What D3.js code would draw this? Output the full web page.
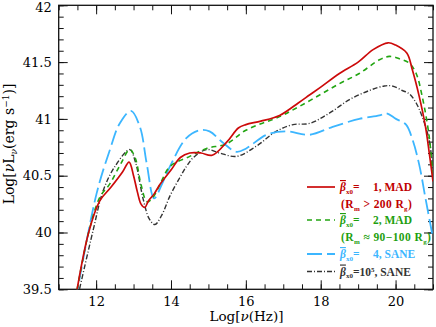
<!DOCTYPE html>
<html>
<head>
<meta charset="utf-8">
<script src="https://cdn.jsdelivr.net/npm/d3@7"></script>
<style>
  body { margin: 0; background: white; }
  text { font-family: "DejaVu Serif", "Liberation Serif", serif; }
  .leg { font-family: "Liberation Serif", serif; font-weight: bold; }
</style>
</head>
<body>
<script>
// spectra: log nu (Hz) and log nuL_nu (erg/s)
var nuRed  = [11.45, 11.8, 12.1, 12.4, 12.7, 12.88, 13.0, 13.1, 13.2, 13.3, 13.4, 13.55, 13.7, 14.0, 14.25, 14.5, 14.8, 15.1, 15.5, 15.8, 16.0, 16.4, 16.9, 17.4, 17.7, 18.0, 18.5, 19.0, 19.4, 19.8, 20.0, 20.3, 20.45, 20.63, 20.8, 20.9, 21.0];
var lumRed = [39.42, 40.0, 40.28, 40.4, 40.53, 40.62, 40.5, 40.36, 40.25, 40.22, 40.28, 40.34, 40.42, 40.55, 40.66, 40.7, 40.7, 40.68, 40.8, 40.92, 40.95, 40.98, 41.03, 41.14, 41.21, 41.28, 41.4, 41.5, 41.61, 41.67, 41.65, 41.58, 41.43, 41.2, 40.93, 40.7, 40.45];

var nuGreen  = [11.45, 11.8, 12.1, 12.37, 12.65, 12.9, 13.05, 13.2, 13.36, 13.5, 13.7, 13.97, 14.5, 14.95, 15.48, 16.0, 16.9, 17.43, 17.97, 18.5, 19.03, 19.57, 19.83, 20.1, 20.37, 20.55, 20.71, 20.9, 21.0];
var lumGreen = [39.42, 40.0, 40.31, 40.43, 40.6, 40.73, 40.65, 40.42, 40.27, 40.3, 40.42, 40.58, 40.67, 40.74, 40.78, 40.9, 41.02, 41.11, 41.21, 41.31, 41.4, 41.52, 41.55, 41.53, 41.49, 41.4, 41.2, 40.84, 40.47];

var nuBlue  = [11.45, 12.01, 12.37, 12.63, 12.93, 13.17, 13.35, 13.55, 13.75, 13.97, 14.41, 14.77, 15.03, 15.39, 15.75, 16.01, 16.55, 17.08, 17.7, 18.32, 19.03, 19.57, 19.75, 20.01, 20.28, 20.45, 20.63, 20.8, 21.0];
var lumBlue = [39.4, 40.34, 40.73, 40.96, 41.07, 40.93, 40.61, 40.3, 40.42, 40.58, 40.83, 40.9, 40.89, 40.79, 40.71, 40.74, 40.86, 40.89, 40.86, 40.93, 41.0, 41.03, 41.05, 41.0, 40.95, 40.82, 40.6, 40.3, 39.95];

var nuBlack  = [11.5, 11.92, 12.19, 12.5, 12.9, 13.05, 13.26, 13.42, 13.57, 13.75, 13.97, 14.23, 14.41, 14.6, 14.95, 15.3, 15.75, 16.28, 16.81, 17.26, 17.7, 18.23, 18.77, 19.3, 19.7, 19.91, 20.18, 20.37, 20.55, 20.71, 20.9, 21.0];
var lumBlack = [39.42, 40.02, 40.37, 40.58, 40.73, 40.62, 40.29, 40.12, 40.07, 40.15, 40.32, 40.48, 40.58, 40.66, 40.73, 40.7, 40.67, 40.76, 40.89, 40.95, 40.96, 41.05, 41.17, 41.25, 41.29, 41.29, 41.25, 41.22, 41.14, 41.02, 40.81, 40.52];

var xTicks = [12, 14, 16, 18, 20];
var yTicks = [39.5, 40, 40.5, 41, 41.5, 42];

var margin = {top: 5.3, right: 3, bottom: 37.7, left: 58.7};
var width  = 436 - margin.left - margin.right;
var height = 327 - margin.top - margin.bottom;

var svg = d3.select("body")
  .append("svg")
    .attr("width", 436)
    .attr("height", 327)
  .append("g")
    .attr("transform", "translate(" + margin.left + "," + margin.top + ")");

var x = d3.scaleLinear().domain([11, 21]).range([0, width]);
var y = d3.scaleLinear().domain([39.5, 42]).range([height, 0]);

svg.append("clipPath").attr("id", "plotclip")
  .append("rect").attr("width", width).attr("height", height);

// ticks, all pointing inward
function ticks(axis, tr, size, vals, labels) {
  var g = svg.append("g").attr("transform", tr)
    .call(axis.tickValues(vals).tickSize(size)
      .tickFormat(labels ? function(d) { return d; } : ""));
  g.select(".domain").remove();
  g.selectAll("line").attr("stroke", "#111").attr("stroke-width", 1);
  return g;
}
var xMinor = d3.range(22, 43).map(function(d) { return d / 2; });
var yMinor = d3.range(395, 421).map(function(d) { return d / 10; });

var bx = ticks(d3.axisBottom(x).tickPadding(7.5), "translate(0," + height + ")", -9, xTicks, true);
ticks(d3.axisBottom(x), "translate(0," + height + ")", -5, xMinor, false);
ticks(d3.axisTop(x), "translate(0,0)", -9, xTicks, false);
ticks(d3.axisTop(x), "translate(0,0)", -5, xMinor, false);
var ly = ticks(d3.axisLeft(y).tickPadding(7), "translate(0,0)", -9, yTicks, true);
ticks(d3.axisLeft(y), "translate(0,0)", -5, yMinor, false);
ticks(d3.axisRight(y), "translate(" + width + ",0)", -9, yTicks, false);
ticks(d3.axisRight(y), "translate(" + width + ",0)", -5, yMinor, false);

bx.selectAll("text").attr("font-size", 13).attr("fill", "#000")
  .style("font-family", "DejaVu Serif");
ly.selectAll("text").attr("font-size", 13).attr("fill", "#000")
  .style("font-family", "DejaVu Serif")
  .attr("dy", function(d) { return d == 42 ? "0.5em" : "0.32em"; });

svg.append("rect").attr("width", width).attr("height", height)
  .style("fill", "none").style("stroke", "#111").style("stroke-width", 1.3);

// curves
var series = [
  {nu: nuBlack, lum: lumBlack, color: "#333333", dash: "5,2,1,2", w: 1.4},
  {nu: nuBlue,  lum: lumBlue,  color: "#3cb6ff", dash: "15,5",    w: 1.8},
  {nu: nuGreen, lum: lumGreen, color: "#22a512", dash: "5,4",     w: 1.6},
  {nu: nuRed,   lum: lumRed,   color: "#cc0a0a", dash: null,      w: 1.7}
];

var line = d3.line()
  .x(function(d) { return x(d[0]); })
  .y(function(d) { return y(d[1]); })
  .curve(d3.curveCatmullRom.alpha(0.5));

svg.append("g").attr("clip-path", "url(#plotclip)")
  .selectAll("path").data(series).enter().append("path")
    .attr("d", function(s) { return line(d3.zip(s.nu, s.lum)); })
    .style("fill", "none")
    .style("stroke", function(s) { return s.color; })
    .style("stroke-width", function(s) { return s.w; })
    .style("stroke-dasharray", function(s) { return s.dash; });

// legend
var legend = [
  {label: "1, MAD",  color: "#cc0a0a", text: "#c00000", dash: null,      w: 1.7, yy: 187, extra: "(R|m| > 200 R|g|)"},
  {label: "2, MAD",  color: "#22a512", text: "#1f9f10", dash: "5,4",     w: 1.6, yy: 220, extra: "(R|m| \u2248 90\u2212100 R|g|)"},
  {label: "4, SANE", color: "#3cb6ff", text: "#3cb6ff", dash: "15,5",    w: 1.8, yy: 254, extra: null},
  {label: "SANE",    color: "#333333", text: "#333333", dash: "5,2,1,2", w: 1.4, yy: 271.5, extra: null, big: true}
];

var lg = svg.append("g").attr("transform", "translate(" + (-margin.left) + "," + (-margin.top) + ")");

legend.forEach(function(d) {
  lg.append("line")
    .attr("x1", 307).attr("x2", 335).attr("y1", d.yy).attr("y2", d.yy)
    .style("stroke", d.color).style("stroke-width", d.w)
    .style("stroke-dasharray", d.dash);

  var t = lg.append("text").attr("class", "leg").attr("x", 340).attr("y", d.yy + 4)
    .attr("font-size", 11.5).attr("fill", d.text);
  t.append("tspan").text("\u03b2").style("font-style", "italic")
    .style("text-decoration", "overline");
  t.append("tspan").text("x0").attr("font-size", 7).attr("dy", 2.5);
  if (d.big) {
    t.append("tspan").text("=10").attr("dy", -2.5);
    t.append("tspan").text("5").attr("font-size", 7).attr("dy", -4);
    t.append("tspan").text(", " + d.label).attr("dy", 4);
  } else {
    t.append("tspan").text("=").attr("dy", -2.5);
    t.append("tspan").text(d.label).attr("x", 373);
  }

  if (d.extra) {
    var parts = d.extra.split("|");
    var e = lg.append("text").attr("class", "leg").attr("x", 341).attr("y", d.yy + 21)
      .attr("font-size", 11.5).attr("fill", d.text)
      .style("letter-spacing", "0.4px");
    parts.forEach(function(p, i) {
      var ts = e.append("tspan").text(p);
      if (i % 2 == 1) ts.attr("font-size", 7).attr("dy", 2.5);
      else if (i > 0) ts.attr("dy", -2.5);
    });
  }
});

// axis titles
var xt = lg.append("text").attr("x", 246.5).attr("y", 321)
  .attr("text-anchor", "middle").attr("font-size", 13.5).attr("fill", "#000");
xt.append("tspan").text("Log[");
xt.append("tspan").text("\u03bd").style("font-style", "italic");
xt.append("tspan").text("(Hz)]");

var yt = lg.append("text")
  .attr("transform", "translate(14,144) rotate(-90)")
  .attr("text-anchor", "middle").attr("font-size", 14).attr("fill", "#000");
yt.append("tspan").text("Log[");
yt.append("tspan").text("\u03bd").style("font-style", "italic");
yt.append("tspan").text("L");
yt.append("tspan").text("\u03bd").attr("font-size", 9).attr("dy", 3).style("font-style", "italic");
yt.append("tspan").text("(erg s").attr("dy", -3);
yt.append("tspan").text("\u22121").attr("font-size", 9).attr("dy", -5);
yt.append("tspan").text(")]").attr("dy", 5);
</script>
</body>
</html>
